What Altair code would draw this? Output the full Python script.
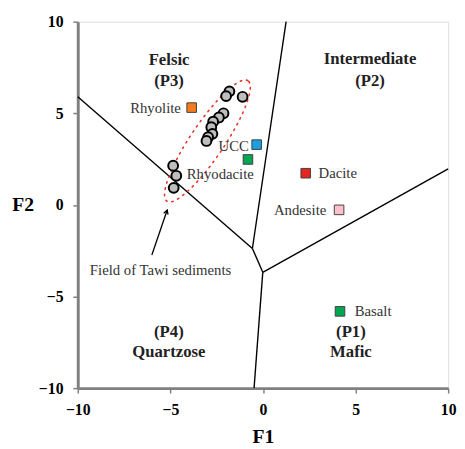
import altair as alt
import pandas as pd
import numpy as np

FONT = "Liberation Serif"

# Sample points (Tawi sediments)
sample_f1 = [-1.81, -1.99, -1.10, -2.13, -2.38, -2.69, -2.79, -2.73, -2.96, -3.05, -4.85, -4.68, -4.82]
sample_f2 = [6.20, 5.94, 5.90, 5.00, 4.77, 4.54, 4.24, 3.88, 3.70, 3.49, 2.14, 1.59, 0.93]

# Reference rock compositions
ref_names = ["Rhyolite", "UCC", "Rhyodacite", "Dacite", "Andesite", "Basalt"]
ref_f1 = [-3.85, -0.34, -0.81, 2.31, 4.11, 4.16]
ref_f2 = [5.31, 3.29, 2.48, 1.73, -0.27, -5.81]
ref_colors = ["#F47B20", "#1BA1E2", "#00A651", "#E3261F", "#FFC0CB", "#00A651"]
# label style: (align, dx, dy)
ref_label_style = [("right", -11, 0), ("right", -8, 1), ("right", 6, 15),
                   ("left", 13, 0), ("right", -13, 0), ("left", 15, 0)]

# Field boundaries (segments)
seg_id = ["A", "A", "B", "B", "C", "C", "D", "D", "E", "E"]
seg_f1 = [-10, -0.57, -0.57, 1.25, -0.57, -0.01, -0.01, 10, -0.01, -0.48]
seg_f2 = [5.9, -2.38, -2.38, 10, -2.38, -3.68, -3.68, 1.97, -3.68, -10]

# Field labels
field_text = ["Felsic", "(P3)", "Intermediate", "(P2)", "(P4)", "Quartzose", "(P1)", "Mafic"]
field_f1 = [-5.07, -5.07, 5.78, 5.78, -5.08, -5.08, 4.75, 4.75]
field_f2 = [7.92, 6.74, 7.96, 6.74, -6.95, -8.04, -6.95, -8.04]

# Dashed envelope (ellipse parameters)
ell_cx, ell_cy, ell_a, ell_b, ell_ang = -3.0, 3.49, 3.95, 0.92, 56.4

# Arrow annotation
arrow_tail = (-6.0, -2.73)
arrow_tip = (-5.17, -0.28)
annot_text = "Field of Tawi sediments"
annot_pos = (-5.53, -3.54)

xs = alt.Scale(domain=[-10, 10], nice=False, zero=False)
ys = alt.Scale(domain=[-10, 10], nice=False, zero=False)

common_axis = dict(values=[-10, -5, 0, 5, 10], grid=False, labelFont=FONT, labelFontWeight="bold",
                   labelFontSize=16, labelColor="black", tickColor="#808080", tickWidth=1.5,
                   tickSize=5, domainColor="#808080", domainWidth=3, labelOverlap=False,
                   labelFlush=False, titleFont=FONT, titleFontSize=20, titleFontWeight="bold",
                   titleColor="black", titleAngle=0, titleAlign="center", titleBaseline="middle")

X = lambda: alt.X("x:Q", scale=xs, axis=alt.Axis(title="F1", labelPadding=9, titleY=49, **common_axis))
Y = lambda: alt.Y("y:Q", scale=ys, axis=alt.Axis(title="F2", labelPadding=10, titleX=-56, titleY=186, **common_axis))

seg_df = pd.DataFrame({"seg": seg_id, "x": seg_f1, "y": seg_f2})
lines = alt.Chart(seg_df).mark_line(color="black", strokeWidth=1.4).encode(x=X(), y=Y(), detail="seg:N")

t = np.linspace(0, 2 * np.pi, 120)
ang = np.deg2rad(ell_ang)
ex = ell_cx + ell_a * np.cos(t) * np.cos(ang) - ell_b * np.sin(t) * np.sin(ang)
ey = ell_cy + ell_a * np.cos(t) * np.sin(ang) + ell_b * np.sin(t) * np.cos(ang)
ell_df = pd.DataFrame({"x": ex, "y": ey, "o": np.arange(len(t))})
ellipse = alt.Chart(ell_df).mark_line(color="#E8322A", strokeWidth=1.6, strokeDash=[1.5, 5],
                                      strokeCap="round").encode(x=X(), y=Y(), order="o:Q")

pts_df = pd.DataFrame({"x": sample_f1, "y": sample_f2})
pts = alt.Chart(pts_df).mark_point(shape="circle", filled=True, fill="#BEBEBE", stroke="black",
                                   strokeWidth=2, size=100, opacity=1).encode(x=X(), y=Y())

ref_df = pd.DataFrame({"x": ref_f1, "y": ref_f2, "name": ref_names, "c": ref_colors})
refs = alt.Chart(ref_df).mark_point(shape="square", filled=True, stroke="#404040", strokeWidth=1,
                                    size=95, opacity=1).encode(x=X(), y=Y(),
                                    fill=alt.Fill("c:N", scale=None))

layers = [lines, ellipse, pts, refs]
for i, (al, dx, dy) in enumerate(ref_label_style):
    d = ref_df.iloc[[i]]
    layers.append(alt.Chart(d).mark_text(align=al, dx=dx, dy=dy, baseline="middle", font=FONT,
                                         fontSize=15, color="#333333").encode(x=X(), y=Y(), text="name:N"))

field_df = pd.DataFrame({"x": field_f1, "y": field_f2, "t": field_text})
layers.append(alt.Chart(field_df).mark_text(font=FONT, fontSize=17, fontWeight="bold", color="#222222",
                                            baseline="middle").encode(x=X(), y=Y(), text="t:N"))

arr_df = pd.DataFrame({"x": [arrow_tail[0]], "y": [arrow_tail[1]], "x2": [arrow_tip[0]], "y2": [arrow_tip[1]]})
layers.append(alt.Chart(arr_df).mark_rule(color="black", strokeWidth=1.3).encode(x=X(), y=Y(), x2="x2:Q", y2="y2:Q"))
head_df = pd.DataFrame({"x": [arrow_tip[0]], "y": [arrow_tip[1]]})
layers.append(alt.Chart(head_df).mark_point(shape="M-0.55,1L0,0L0.55,1", filled=False, stroke="black",
                                            strokeWidth=1.3, size=70, angle=19, opacity=1).encode(x=X(), y=Y()))
ann_df = pd.DataFrame({"x": [annot_pos[0]], "y": [annot_pos[1]], "t": [annot_text]})
layers.append(alt.Chart(ann_df).mark_text(font=FONT, fontSize=15, color="#333333", baseline="middle").encode(
    x=X(), y=Y(), text="t:N"))

chart = alt.layer(*layers).properties(
    width=377, height=373,
    autosize=alt.AutoSizeParams(type="none"),
    padding={"left": 71, "top": 10, "right": 9, "bottom": 57},
).configure_view(stroke="black", strokeWidth=3).configure(background="white")

chart.save("out.html", embed_options={"renderer": "svg", "actions": False})
